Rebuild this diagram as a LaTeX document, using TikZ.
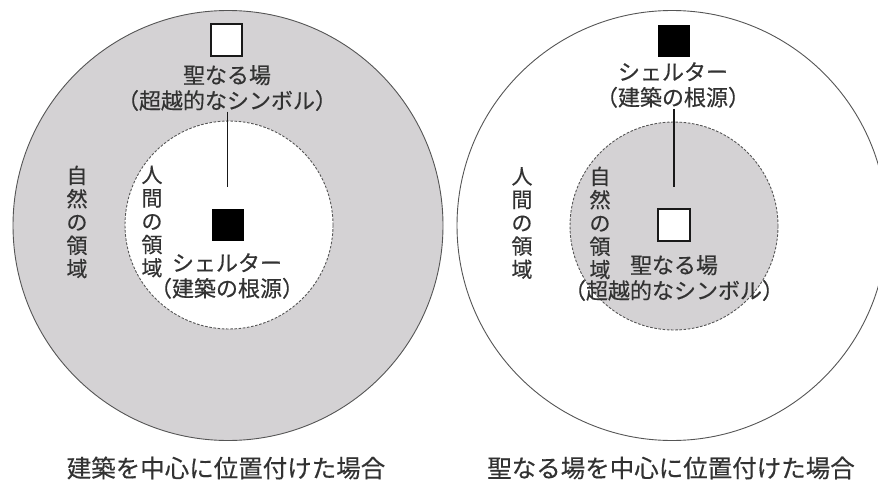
\documentclass[tikz,border=0pt]{standalone}
\usepackage{fontspec}
\setmainfont[FakeBold=0.35]{Noto Sans CJK JP}
\definecolor{natgrey}{RGB}{212,210,212}
\definecolor{edgegrey}{RGB}{85,85,85}
\definecolor{txt}{RGB}{50,50,50}
\begin{document}
\begin{tikzpicture}[x=1pt,y=-1pt,
  outer/.style={draw=edgegrey,line width=0.9pt},
  inner/.style={draw=edgegrey,line width=0.9pt,dash pattern=on 2.6pt off 1.6pt},
  sqwhite/.style={draw=black!90,line width=2.2pt,fill=white,minimum size=31.5pt,inner sep=0pt},
  sqblack/.style={fill=black,minimum size=32pt,inner sep=0pt},
  lbl/.style={text=txt,font=\fontsize{22}{25.5}\selectfont,align=center,inner sep=0pt},
  vlbl/.style={text=txt,font=\fontsize{21}{23.3}\selectfont,align=center,inner sep=0pt},
  captext/.style={text=txt,font=\fontsize{24.5}{28}\selectfont,inner sep=0pt},
  conn/.style={draw=black!90,line width=1.7pt}]
\useasboundingbox (0,0) rectangle (878,487);
\clip (0,0) rectangle (878,487);
\fill[white] (0,0) rectangle (878,487);
% ---------- left diagram ----------
\draw[outer,fill=natgrey] (228,225.5) circle[radius=215];
\draw[inner,fill=white] (229,225) circle[radius=104];
\node[sqwhite] (lws) at (226.5,40) {};
\node[lbl] (llab1) at (227,88) {聖なる場\\（超越的なシンボル）};
\node[sqblack] (lbs) at (227.5,225) {};
\node[lbl] (llab2) at (227,276) {シェルター\\（建築の根源）};
\node[vlbl] (lnat) at (77,222) {自\\然\\の\\領\\域};
\node[vlbl] (lhum) at (152,221.5) {人\\間\\の\\領\\域};
\draw[conn,shorten <=0.5pt,shorten >=22pt] (llab1.south -| lbs.north) -- (lbs.north);
\node[captext] (lcap) at (226,468) {建築を中心に位置付けた場合};
% ---------- right diagram ----------
\draw[outer,fill=white] (672,225.5) circle[radius=215];
\draw[inner,fill=natgrey] (674,226) circle[radius=104];
\node[sqblack] (rbs) at (674,41) {};
\node[lbl] (rlab1) at (673,85) {シェルター\\（建築の根源）};
\node[sqwhite] (rws) at (674,225) {};
\node[lbl] (rlab2) at (674,278) {聖なる場\\（超越的なシンボル）};
\node[vlbl] (rhum) at (522,223) {人\\間\\の\\領\\域};
\node[vlbl] (rnat) at (600,223) {自\\然\\の\\領\\域};
\draw[conn,shorten <=1pt,shorten >=21pt] (rlab1.south -| rws.north) -- (rws.north);
\node[captext] (rcap) at (671,468) {聖なる場を中心に位置付けた場合};
\end{tikzpicture}
\end{document}
